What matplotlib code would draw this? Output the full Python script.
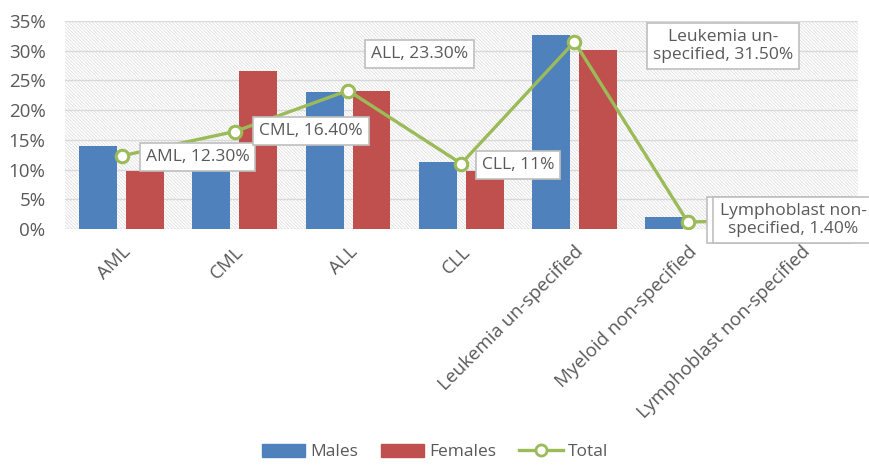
import matplotlib.pyplot as plt
import numpy as np
from matplotlib.patches import Rectangle
from matplotlib.lines import Line2D
from matplotlib.patches import Patch

plt.rcParams['font.family'] = ['Open Sans', 'DejaVu Sans']
plt.rcParams['hatch.linewidth'] = 0.5

categories = ['AML', 'CML', 'ALL', 'CLL', 'Leukemia un-specified',
              'Myeloid non-specified', 'Lymphoblast non-specified']
males = [13.9, 10.3, 23.1, 11.3, 32.6, 2.1, 0]
females = [9.8, 26.6, 23.3, 9.8, 30.1, 0, 0]
total = [12.3, 16.4, 23.3, 11.0, 31.5, 1.2, 1.4]
point_labels = ['AML, 12.30%', 'CML, 16.40%', 'ALL, 23.30%', 'CLL, 11%',
                'Leukemia un-\nspecified, 31.50%', 'Myeloid non-\nspecified, 1.20%',
                'Lymphoblast non-\nspecified, 1.40%']
label_pos = [(0.67, 12.1), (1.67, 16.5), (2.63, 29.5), (3.5, 10.8),
             (5.31, 30.8), (5.80, 1.5), (5.93, 1.5)]

grey = '#595959'
fig = plt.figure(figsize=(8.7, 4.66), dpi=100)
ax = fig.add_axes([0.0747, 0.5086, 0.911, 0.4464])

x = np.arange(len(categories))
ax.add_patch(Rectangle((0, 0), 1, 1, transform=ax.transAxes, facecolor='white',
                       edgecolor='#dadada', hatch='\\' * 10, linewidth=0, zorder=0))
for v in range(0, 36, 5):
    ax.axhline(v, color='#d9d9d9', linewidth=1, zorder=1)

w = 0.335
ax.bar(x - 0.207, males, w, color='#4f81bd', zorder=2)
ax.bar(x + 0.207, females, w, color='#c0504d', zorder=2)
ax.plot(x, total, color='#9bbb59', linewidth=2.4, marker='o', markersize=9,
        markerfacecolor='white', markeredgecolor='#9bbb59', markeredgewidth=2.2, zorder=3)

for i, (lab, (lx, ly)) in enumerate(zip(point_labels, label_pos)):
    ax.text(lx, ly, lab, ha='center', va='center', fontsize=12.5, color=grey,
            linespacing=1.15, zorder=5 + i, clip_on=False,
            bbox=dict(boxstyle='square,pad=0.35', facecolor='white', edgecolor='#bfbfbf', linewidth=1.2))

ax.set_xlim(-0.5, len(categories) - 0.5)
ax.set_ylim(0, 35)
ax.set_yticks(range(0, 36, 5))
ax.set_yticklabels([f'{v}%' for v in range(0, 36, 5)], fontsize=13.5, color=grey)
ax.set_xticks(x)
ax.set_xticklabels(categories, rotation=45, ha='right', rotation_mode='anchor',
                   fontsize=13.5, color=grey)
ax.tick_params(axis='y', length=0, pad=14)
ax.tick_params(axis='x', length=0, pad=10)
for s in ax.spines.values():
    s.set_visible(False)

handles = [Patch(color='#4f81bd'), Patch(color='#c0504d'),
           Line2D([], [], color='#9bbb59', linewidth=2.4, marker='o', markersize=8,
                  markerfacecolor='white', markeredgewidth=2)]
fig.legend(handles, ['Males', 'Females', 'Total'], loc='center', bbox_to_anchor=(0.5, 0.03),
           ncol=3, frameon=False, fontsize=12.5, labelcolor=grey, handlelength=2.5,
           handleheight=0.8, columnspacing=1.3, handletextpad=0.3)

fig.savefig('out.png', dpi=100)
